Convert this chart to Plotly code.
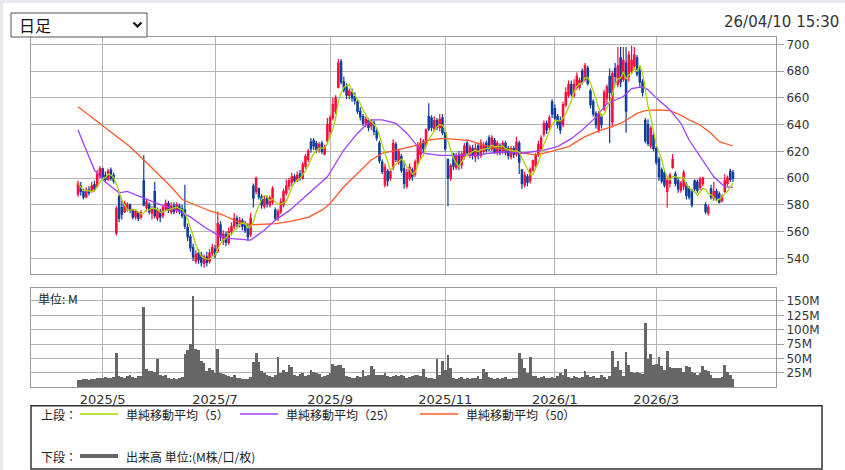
import pandas as pd
import plotly.graph_objects as go

# ---------------- data ----------------
HOLIDAYS = ["2025-04-29", "2025-05-05", "2025-05-06", "2025-07-21", "2025-08-11",
            "2025-09-15", "2025-09-23", "2025-10-13", "2025-11-03", "2025-11-24",
            "2025-12-31", "2026-01-01", "2026-01-02", "2026-01-12", "2026-02-11",
            "2026-02-23", "2026-03-20"]
DATES = pd.bdate_range("2025-04-17", "2026-04-10", freq="C", holidays=HOLIDAYS)

OPEN = [588, 594, 590, 586, 591, 590, 595, 594, 601, 607,
        602, 599, 606, 602, 559, 586, 578, 575, 577, 580,
        576, 571, 574, 571, 598, 578, 580, 574, 590, 570,
        575, 572, 577, 581, 575, 579, 576, 579, 577, 576,
        563, 556, 548, 538, 544, 542, 536, 541, 538, 544,
        547, 546, 565, 553, 558, 552, 560, 564, 570, 566,
        568, 565, 562, 558, 594, 590, 592, 586, 579, 585,
        580, 582, 576, 571, 575, 580, 589, 594, 597, 601,
        598, 603, 600, 609, 614, 627, 628, 626, 622, 626,
        618, 628, 635, 645, 650, 668, 687, 672, 668, 662,
        664, 661, 657, 650, 646, 641, 643, 639, 641, 635,
        626, 612, 595, 605, 600, 608, 625, 612, 616, 607,
        594, 600, 606, 603, 612, 618, 627, 625, 646, 645,
        637, 643, 638, 645, 634, 614, 600, 618, 608, 617,
        610, 616, 626, 618, 622, 616, 624, 617, 620, 626,
        630, 622, 628, 619, 624, 620, 626, 622, 616, 622,
        618, 626, 606, 595, 601, 598, 606, 610, 618, 622,
        633, 641, 638, 657, 652, 646, 643, 640, 655, 662,
        670, 662, 668, 668, 680, 674, 682, 665, 657, 648,
        636, 646, 652, 660, 676, 642, 682, 670, 690, 674,
        686, 676, 680, 684, 690, 680, 672, 643, 640, 624,
        632, 622, 614, 606, 604, 590, 596, 608, 603, 598,
        591, 594, 595, 592, 590, 598, 597, 593, 596, 580,
        574, 592, 585, 590, 588, 583, 590, 596, 605, 604]
HIGH = [598, 597, 592, 593, 594, 597, 598, 606, 609, 608,
        605, 607, 608, 604, 579, 588, 583, 583, 582, 581,
        577, 576, 575, 576, 617, 584, 582, 579, 597, 578,
        577, 580, 584, 583, 582, 582, 582, 581, 580, 595,
        566, 558, 551, 546, 547, 545, 543, 545, 547, 551,
        550, 575, 568, 561, 560, 563, 567, 574, 572, 571,
        570, 568, 566, 574, 596, 601, 593, 588, 587, 587,
        587, 594, 578, 577, 585, 592, 599, 600, 604, 603,
        605, 606, 612, 618, 622, 630, 630, 628, 627, 628,
        625, 645, 647, 660, 662, 689, 689, 676, 671, 667,
        667, 664, 659, 653, 648, 646, 645, 644, 643, 637,
        628, 614, 611, 607, 607, 629, 627, 622, 618, 613,
        607, 611, 608, 614, 627, 630, 629, 637, 656, 647,
        646, 645, 648, 648, 636, 614, 611, 619, 619, 620,
        620, 626, 629, 625, 625, 626, 626, 629, 627, 628,
        632, 632, 630, 628, 626, 628, 628, 624, 624, 624,
        631, 628, 607, 605, 603, 608, 614, 619, 628, 632,
        643, 643, 647, 659, 655, 648, 646, 657, 668, 673,
        673, 674, 679, 675, 682, 686, 684, 667, 659, 650,
        650, 648, 666, 670, 682, 680, 686, 698, 698, 698,
        698, 695, 699, 698, 692, 683, 674, 645, 644, 639,
        634, 624, 616, 608, 606, 600, 604, 618, 605, 600,
        598, 606, 597, 594, 592, 599, 599, 601, 601, 582,
        580, 595, 597, 592, 590, 588, 603, 602, 607, 606]
LOW = [586, 587, 584, 585, 587, 589, 590, 593, 600, 599,
       597, 598, 598, 596, 557, 567, 569, 574, 575, 574,
       569, 569, 568, 569, 579, 575, 573, 569, 570, 568,
       567, 570, 575, 574, 573, 573, 574, 573, 570, 562,
       553, 545, 538, 536, 536, 534, 533, 534, 536, 541,
       540, 544, 553, 550, 549, 550, 557, 562, 563, 563,
       561, 559, 553, 556, 578, 588, 584, 577, 577, 578,
       578, 580, 568, 568, 573, 578, 587, 591, 594, 596,
       597, 598, 599, 607, 612, 619, 621, 619, 619, 618,
       617, 626, 631, 643, 648, 667, 670, 664, 659, 659,
       657, 655, 648, 643, 639, 638, 635, 636, 632, 628,
       611, 603, 593, 594, 598, 606, 612, 610, 604, 592,
       592, 598, 598, 601, 610, 614, 618, 623, 635, 635,
       635, 636, 635, 632, 620, 579, 598, 606, 606, 606,
       607, 614, 617, 615, 614, 612, 614, 615, 618, 619,
       620, 620, 618, 617, 617, 618, 617, 614, 614, 615,
       616, 603, 592, 593, 594, 596, 605, 608, 616, 620,
       631, 633, 636, 645, 643, 637, 633, 638, 653, 660,
       661, 660, 666, 666, 670, 672, 669, 652, 646, 637,
       634, 637, 650, 656, 626, 638, 670, 668, 668, 672,
       634, 672, 678, 682, 676, 668, 661, 626, 624, 622,
       620, 610, 598, 596, 593, 578, 593, 607, 594, 589,
       589, 591, 584, 584, 578, 590, 589, 591, 594, 573,
       572, 584, 583, 583, 581, 582, 589, 594, 597, 597]
CLOSE = [596, 590, 586, 591, 589, 594, 592, 603, 607, 601,
         599, 605, 600, 598, 577, 570, 573, 581, 580, 576,
         571, 575, 570, 574, 580, 582, 575, 577, 572, 576,
         571, 578, 581, 576, 579, 575, 580, 576, 572, 564,
         556, 548, 541, 543, 539, 537, 541, 537, 544, 548,
         542, 566, 556, 558, 552, 560, 564, 570, 566, 568,
         564, 561, 556, 570, 585, 600, 586, 580, 584, 581,
         585, 592, 570, 575, 582, 590, 594, 598, 601, 598,
         602, 600, 610, 616, 620, 622, 624, 621, 625, 620,
         623, 640, 645, 655, 660, 686, 672, 666, 662, 665,
         660, 658, 650, 646, 641, 644, 638, 642, 635, 630,
         613, 605, 608, 598, 605, 626, 614, 620, 606, 596,
         604, 608, 601, 612, 624, 626, 622, 636, 637, 638,
         643, 638, 644, 634, 622, 600, 609, 609, 616, 609,
         618, 624, 619, 623, 617, 622, 618, 626, 624, 621,
         622, 630, 620, 626, 619, 626, 619, 617, 622, 618,
         627, 612, 596, 602, 597, 606, 613, 617, 625, 630,
         641, 636, 645, 648, 645, 640, 636, 655, 664, 670,
         663, 670, 676, 673, 672, 684, 671, 655, 648, 640,
         648, 640, 664, 668, 664, 678, 676, 684, 672, 688,
         650, 692, 688, 692, 678, 672, 664, 628, 626, 637,
         622, 612, 601, 598, 595, 598, 602, 614, 596, 592,
         596, 604, 587, 586, 580, 592, 591, 599, 600, 575,
         578, 586, 590, 585, 582, 586, 598, 600, 599, 600]
VOLUME_M = [12, 13, 14, 14, 13, 15, 15, 16, 17, 16,
            18, 17, 16, 18, 60, 20, 18, 17, 19, 21,
            18, 17, 20, 19, 140, 31, 29, 28, 26, 49,
            22, 20, 21, 16, 15, 17, 14, 16, 18, 58,
            64, 75, 159, 66, 64, 45, 42, 28, 33, 30,
            24, 66, 24, 23, 22, 19, 18, 22, 17, 16,
            15, 15, 14, 18, 44, 60, 44, 28, 25, 22,
            19, 18, 21, 53, 24, 30, 26, 38, 36, 22,
            20, 23, 24, 19, 21, 30, 26, 24, 23, 18,
            20, 22, 25, 41, 37, 39, 38, 34, 20, 18,
            16, 17, 19, 18, 30, 20, 22, 37, 31, 22,
            22, 21, 24, 20, 18, 19, 22, 20, 21, 20,
            17, 18, 19, 22, 21, 20, 31, 18, 16, 17,
            15, 49, 22, 45, 30, 56, 33, 17, 15, 16,
            18, 14, 16, 15, 17, 16, 19, 15, 31, 27,
            18, 16, 15, 17, 14, 16, 18, 15, 14, 17,
            16, 60, 50, 33, 25, 53, 20, 19, 17, 18,
            20, 17, 16, 18, 17, 19, 25, 22, 31, 18,
            17, 19, 18, 16, 18, 29, 22, 18, 20, 17,
            16, 21, 18, 15, 19, 63, 35, 45, 30, 20,
            62, 38, 26, 24, 27, 25, 23, 112, 50, 57,
            38, 40, 53, 37, 30, 63, 35, 33, 34, 34,
            33, 27, 37, 36, 26, 24, 22, 25, 37, 30,
            28, 21, 17, 17, 16, 18, 38, 26, 21, 15]

# moving averages (they continue history that is not shown)
SMA25_IDX = [0, 3, 6, 10, 15, 18, 23, 29, 36, 41, 46, 51, 55, 60, 63, 68, 72, 77, 83, 91,
             97, 102, 107, 111, 116, 120, 124, 126, 132, 138, 146, 150, 155, 162, 170, 175,
             180, 184, 189, 193, 199, 202, 206, 208, 211, 216, 220, 223, 227, 230, 232, 234,
             236, 239]
SMA25_VAL = [636, 621, 606, 597, 589, 590, 586, 581, 576, 571, 563.6, 557.4, 555, 554, 553.7,
             561, 568.6, 575.5, 586.5, 601, 621, 633.6, 643.5, 643.5, 641, 633.6, 623.5, 618.6,
             617, 617, 617, 618.6, 619.7, 618.6, 621, 623.5, 629.5, 636, 645.6, 655.6, 661,
             667, 668.3, 666, 660, 651, 641, 628.5, 616, 607.5, 601, 597.3, 593.5, 593]
SMA50_IDX = [0, 4, 9, 14, 19, 24, 29, 34, 38, 43, 48, 53, 58, 63, 68, 72, 77, 84, 89, 92,
             97, 102, 107, 111, 116, 124, 128, 133, 138, 143, 148, 153, 158, 162, 167, 172,
             179, 185, 191, 195, 199, 204, 207, 212, 216, 220, 223, 227, 231, 234, 239]
SMA50_VAL = [653.4, 647, 639.7, 631, 623.5, 613.5, 603.6, 593.5, 584, 580, 575.6, 572.4,
             567.4, 565, 565.4, 566, 567.4, 570.6, 576, 581, 593.5, 603.6, 613.5, 618.5, 621,
             624.7, 628.5, 629.7, 629, 628, 624.7, 622.2, 620.4, 619, 617.2, 619.7, 623.5, 631,
             636, 638.4, 642, 648.4, 650.4, 651, 650.4, 647, 643.5, 639.7, 633.5, 627.2, 624]

TICK_MONTHS = ["2025-05", "2025-07", "2025-09", "2025-11", "2026-01", "2026-03"]
TICK_LABELS = ["2025/5", "2025/7", "2025/9", "2025/11", "2026/1", "2026/3"]
PRICE_TICKS = [540, 560, 580, 600, 620, 640, 660, 680, 700]
VOL_TICKS = [25, 50, 75, 100, 125, 150]
VOL_TICK_LABELS = ["25M", "50M", "75M", "100M", "125M", "150M"]

# ---------------- derived ----------------
IDX = list(range(len(DATES)))
months = [d.strftime("%Y-%m") for d in DATES]
TICK_IDX = [months.index(m) for m in TICK_MONTHS]
SMA5 = pd.Series(CLOSE).rolling(5, min_periods=1).mean().tolist()

W, H = 845, 470
def px(x):
    return x / W
def py(y):
    return 1 - y / H

RED = "#ff0a3c"
BLUE = "#0d3c9b"
GRID = "#b4b4b4"
FRAME = "#9a9a9a"
NUMFONT = "DejaVu Sans"
JPFONT = "Noto Sans CJK JP"

XR = [-17.15, 254.7]

fig = go.Figure()
fig.add_trace(go.Candlestick(
    x=IDX, open=OPEN, high=HIGH, low=LOW, close=CLOSE,
    increasing=dict(line=dict(color=RED, width=1.2), fillcolor=RED),
    decreasing=dict(line=dict(color=BLUE, width=1.2), fillcolor=BLUE),
    whiskerwidth=0, xaxis="x", yaxis="y", showlegend=False, hoverinfo="skip"))
fig.add_trace(go.Scatter(x=SMA50_IDX, y=SMA50_VAL, mode="lines",
                         line=dict(color="#ff5a28", width=1.3), xaxis="x", yaxis="y",
                         showlegend=False, hoverinfo="skip"))
fig.add_trace(go.Scatter(x=SMA25_IDX, y=SMA25_VAL, mode="lines",
                         line=dict(color="#a040ff", width=1.3), xaxis="x", yaxis="y",
                         showlegend=False, hoverinfo="skip"))
fig.add_trace(go.Scatter(x=IDX, y=SMA5, mode="lines",
                         line=dict(color="#a8d400", width=1.3), xaxis="x", yaxis="y",
                         showlegend=False, hoverinfo="skip"))
fig.add_trace(go.Bar(x=IDX, y=VOLUME_M, marker=dict(color="#666666", line=dict(width=0)),
                     xaxis="x2", yaxis="y2", showlegend=False, hoverinfo="skip"))

axis_common = dict(showgrid=True, gridcolor=GRID, gridwidth=1, showline=True,
                   linecolor=FRAME, linewidth=1, mirror=True, zeroline=False)

fig.update_layout(
    width=W, height=H, margin=dict(l=0, r=0, t=0, b=0),
    paper_bgcolor="white", plot_bgcolor="white", bargap=0,
    xaxis=dict(domain=[px(31), px(776)], range=XR, anchor="y", tickvals=TICK_IDX,
               showticklabels=False, ticks="", rangeslider=dict(visible=False), **axis_common),
    yaxis=dict(domain=[py(274), py(37)], range=[528.3, 705.5], anchor="x", side="right",
               tickvals=PRICE_TICKS, ticks="outside", ticklen=7, tickcolor=FRAME,
               tickfont=dict(family=NUMFONT, size=12, color="#333333"), **axis_common),
    xaxis2=dict(domain=[px(31), px(776)], range=XR, anchor="y2", tickvals=TICK_IDX,
                ticktext=TICK_LABELS, ticks="", tickfont=dict(family=NUMFONT, size=13, color="#333333"),
                **axis_common),
    yaxis2=dict(domain=[py(387.3), py(288)], range=[0, 172.4], anchor="x2", side="right",
                tickvals=VOL_TICKS, ticktext=VOL_TICK_LABELS, ticks="outside", ticklen=7,
                tickcolor=FRAME, tickfont=dict(family=NUMFONT, size=12, color="#333333"),
                **axis_common),
)

shapes = []
# page frame tint
shapes.append(dict(type="rect", xref="paper", yref="paper", x0=0, x1=1, y0=py(3), y1=1,
                   fillcolor="#e8e8ee", line=dict(width=0), layer="below"))
shapes.append(dict(type="rect", xref="paper", yref="paper", x0=0, x1=px(3), y0=0, y1=1,
                   fillcolor="#e8e8ee", line=dict(width=0), layer="below"))
# dropdown box
shapes.append(dict(type="rect", xref="paper", yref="paper", x0=px(11), x1=px(147),
                   y0=py(37), y1=py(13), line=dict(color="#555555", width=1), fillcolor="white"))
shapes.append(dict(type="path", xref="paper", yref="paper",
                   path=f"M {px(133.5)} {py(22.5)} L {px(137.5)} {py(26.5)} L {px(141.5)} {py(22.5)}",
                   line=dict(color="#111111", width=2.2)))
# legend box
shapes.append(dict(type="rect", xref="paper", yref="paper", x0=px(31), x1=px(822),
                   y0=py(469), y1=py(405.7), line=dict(color="#333333", width=1.5)))
for (x0, x1, yy, col, w) in [(80, 118, 414, "#a8d400", 1.5), (240, 278, 414, "#a040ff", 1.5),
                             (420, 458, 414, "#ff5a28", 1.5), (80, 118, 456, "#666666", 4)]:
    shapes.append(dict(type="line", xref="paper", yref="paper", x0=px(x0), x1=px(x1),
                       y0=py(yy), y1=py(yy), line=dict(color=col, width=w)))
fig.update_layout(shapes=shapes)

ann = []
def text(x, y, s, size=12, anchor="left", family=JPFONT, color="#222222"):
    ann.append(dict(x=px(x), y=py(y), xref="paper", yref="paper", text=s, showarrow=False,
                    xanchor=anchor, yanchor="middle", font=dict(family=family, size=size, color=color)))

text(17, 25, "日足", size=16, color="#111111")
text(841, 22, "26/04/10 15:30", size=15, anchor="right", family=NUMFONT, color="#333333")
text(36, 298, "単位: M", size=12)
text(39, 414, "上段：", size=12)
text(124, 414, "単純移動平均（5）", size=12)
text(284, 414, "単純移動平均（25）", size=12)
text(464, 414, "単純移動平均（50）", size=12)
text(39, 456, "下段：", size=12)
text(124, 456, "出来高 単位:(M株/口/枚)", size=12)
fig.update_layout(annotations=ann)

fig.write_html("out.html", config={"displayModeBar": False},
               post_script="document.body.style.margin='0';document.body.style.overflow='hidden';")
